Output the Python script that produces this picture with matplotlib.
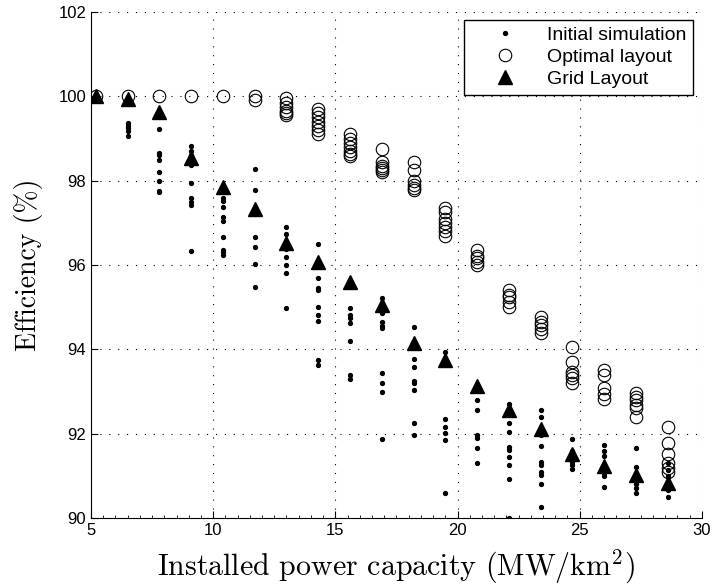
import matplotlib
matplotlib.use('Agg')
import matplotlib.pyplot as plt
from matplotlib.ticker import MultipleLocator

# Installed capacity (MW/km^2) of each layout case
capacity = [5.2, 6.5, 7.8, 9.1, 10.4, 11.7, 13.0, 14.3, 15.6, 16.9,
            18.2, 19.5, 20.8, 22.1, 23.4, 24.7, 26.0, 27.3, 28.6]

# Grid layout efficiency (%)
grid_layout = [100.0, 99.93, 99.64, 98.53, 97.84, 97.32, 96.53, 96.06, 95.6, 95.04,
               94.14, 93.75, 93.12, 92.55, 92.12, 91.53, 91.23, 91.02, 90.82]

# Initial simulations (%), one list per capacity
initial_sim = [
    [100.0, 100.0],
    [99.9, 99.36, 99.3, 99.25, 99.19, 99.07],
    [99.22, 98.66, 98.6, 98.5, 98.21, 98.0, 97.76, 97.73],
    [98.83, 98.71, 98.6, 98.37, 97.94, 97.6, 97.5, 97.42, 96.34],
    [97.6, 97.52, 97.37, 97.15, 97.04, 96.67, 96.36, 96.3, 96.24],
    [98.28, 97.78, 97.2, 96.67, 96.43, 96.02, 95.49],
    [96.91, 96.73, 96.39, 96.2, 96.0, 95.8, 94.97],
    [96.49, 95.7, 95.46, 95.4, 95.01, 94.81, 94.67, 93.75, 93.63],
    [94.99, 94.82, 94.75, 94.62, 94.2, 93.38, 93.3],
    [95.21, 94.86, 94.64, 94.56, 94.5, 93.45, 93.2, 92.98, 91.87],
    [94.54, 93.76, 93.57, 93.25, 93.2, 93.04, 92.25, 91.97],
    [93.93, 92.34, 92.17, 92.02, 91.85, 90.6],
    [92.8, 92.56, 91.97, 91.9, 91.65, 91.31],
    [92.7, 92.25, 92.03, 91.69, 91.62, 91.45, 91.26, 90.93, 90.01],
    [92.55, 92.39, 91.97, 91.71, 91.34, 91.25, 91.1, 91.02, 90.81, 90.25],
    [91.87, 91.6, 91.34, 91.25, 91.16],
    [91.72, 91.6, 91.48, 91.06, 91.0, 90.74],
    [91.65, 91.22, 90.8, 90.72, 90.59],
    [91.3, 91.15, 91.0, 90.67, 90.51],
]

# Optimal layouts (%), one list per capacity
optimal = [
    [100.0],
    [100.0],
    [100.0],
    [100.0],
    [100.0],
    [100.0, 99.92],
    [99.97, 99.85, 99.75, 99.65, 99.6, 99.55],
    [99.7, 99.6, 99.5, 99.4, 99.3, 99.2, 99.1],
    [99.1, 99.0, 98.9, 98.8, 98.7, 98.63, 98.58],
    [98.74, 98.45, 98.35, 98.3, 98.25, 98.2],
    [98.45, 98.25, 98.0, 97.9, 97.83, 97.77],
    [97.35, 97.25, 97.1, 97.0, 96.9, 96.8, 96.7],
    [96.36, 96.22, 96.16, 96.08, 96.0],
    [95.41, 95.3, 95.25, 95.12, 95.01],
    [94.77, 94.65, 94.58, 94.48, 94.38],
    [94.06, 93.71, 93.47, 93.38, 93.31, 93.21],
    [93.51, 93.39, 93.08, 92.95, 92.82],
    [92.96, 92.87, 92.8, 92.68, 92.6, 92.4],
    [92.15, 91.79, 91.53, 91.3, 91.18, 91.1],
]

plt.rcParams['mathtext.fontset'] = 'cm'
plt.rcParams['font.family'] = ['Liberation Sans', 'DejaVu Sans']

fig = plt.figure(figsize=(7.14, 5.86), dpi=100)
ax = fig.add_axes([0.1275, 0.116, 0.8555, 0.8635])

# flatten the scatter columns
sim_x = [c for c, vals in zip(capacity, initial_sim) for _ in vals]
sim_y = [v for vals in initial_sim for v in vals]
opt_x = [c for c, vals in zip(capacity, optimal) for _ in vals]
opt_y = [v for vals in optimal for v in vals]

ax.plot(sim_x, sim_y, 'o', color='black', markersize=2.8, linestyle='none',
        label='Initial simulation', zorder=3)
ax.plot(opt_x, opt_y, 'o', markerfacecolor='none', markeredgecolor='black',
        markeredgewidth=0.8, markersize=9, linestyle='none',
        label='Optimal layout', zorder=2)
ax.plot(capacity, grid_layout, '^', color='black', markersize=9.5,
        linestyle='none', label='Grid Layout', zorder=4)

ax.set_xlim(5, 30)
ax.set_ylim(90, 102)
ax.xaxis.set_major_locator(MultipleLocator(5))
ax.yaxis.set_major_locator(MultipleLocator(2))
ax.xaxis.set_minor_locator(MultipleLocator(0.5))
ax.tick_params(which='both', direction='in', labelsize=12)
ax.tick_params(which='major', length=5)
ax.tick_params(axis='x', which='minor', length=2.5)
ax.tick_params(axis='y', which='minor', length=0)

ax.grid(True, which='major', color='black', linestyle=(0, (1, 7)), linewidth=0.8)
ax.spines['top'].set_visible(False)
ax.spines['right'].set_visible(False)

ax.set_xlabel('Installed power capacity (MW/km$^2$)', fontname='cmr10', fontsize=21.5,
              labelpad=7)
ax.set_ylabel('Efficiency (%)', fontname='cmr10', fontsize=20, labelpad=11)

leg = ax.legend(loc='upper right', bbox_to_anchor=(0.985, 0.985), fontsize=14,
                frameon=True, fancybox=False, edgecolor='black', framealpha=1,
                borderaxespad=0, handlelength=3.5, handletextpad=0.4,
                borderpad=0.35, labelspacing=0.22)
leg.get_frame().set_linewidth(1.0)

fig.savefig('out.png', dpi=100)
